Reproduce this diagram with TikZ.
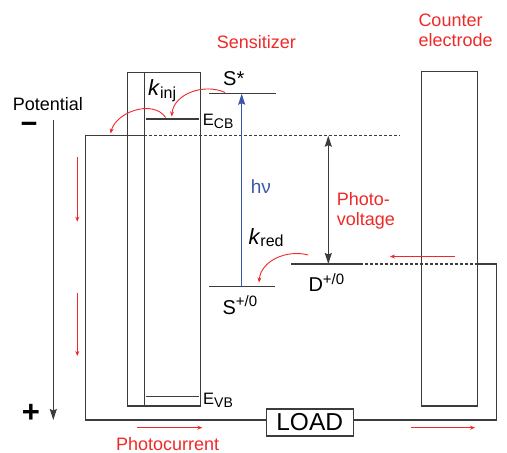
\documentclass[tikz,border=0pt]{standalone}
\usepackage{fontspec}
\setmainfont{Liberation Sans}
\usetikzlibrary{arrows.meta}
\definecolor{ln}{HTML}{3C3C3C}
\definecolor{rd}{HTML}{F02828}
\definecolor{bl}{HTML}{3A56A8}
\newcommand{\lowsub}[3]{\raisebox{-#1}{\fontsize{#2}{#2}\selectfont #3}}
\newcommand{\highsup}[3]{\raisebox{#1}{\fontsize{#2}{#2}\selectfont #3}}
\tikzset{
  ln/.style={draw=ln, line width=1.2pt},
  dashln/.style={draw=ln, line width=1.1pt, dash pattern=on 3pt off 2pt},
  lbl/.style={inner sep=0pt, font=\fontsize{18}{20}\selectfont},
  biglbl/.style={inner sep=0pt, font=\fontsize{20}{22}\selectfont},
  redarr/.style={draw=rd, line width=0.9pt, -{Stealth[length=5pt,width=4pt]}},
  blkarr/.style={draw=ln, line width=1.2pt},
  bigtip/.tip={Stealth[length=11pt,width=7pt,inset=1.5pt]},
}
\begin{document}
\begin{tikzpicture}[x=1pt,y=-1pt]
\useasboundingbox (0,0) rectangle (507,453);

% ---------- coordinates ----------
% semiconductor (TiO2) box
\coordinate (boxTL) at (127.7,72.3);
\coordinate (boxBR) at (200.5,406);
\coordinate (innerT) at (144.3,72.3);
\coordinate (innerB) at (144.3,406);
\coordinate (ecbL) at (145.7,119);
\coordinate (ecbR) at (199,119);
\coordinate (evbL) at (145.7,396.7);
\coordinate (evbR) at (199,396.7);
% circuit
\coordinate (cTL) at (85.7,135.7);
\coordinate (cBL) at (85.7,420);
\coordinate (fermiA) at (144.3,135.7);
\coordinate (fermiB) at (400,135.7);
\coordinate (cBR) at (496.7,420);
\coordinate (cRT) at (496.7,264);
\coordinate (ceR) at (478,264);
\coordinate (redoxE) at (361.7,264);
\coordinate (redoxL) at (291,264);
% counter electrode
\coordinate (ceTL) at (421.5,71.7);
\coordinate (ceBR) at (477.8,406);
% sensitizer levels
\coordinate (sstarL) at (209,93.7);
\coordinate (sstarR) at (275.7,93.7);
\coordinate (sgL) at (209,286.7);
\coordinate (sgR) at (275,286.7);
\coordinate (hvB) at (241.7,286.7);
\coordinate (hvT) at (241.7,93.7);
% photovoltage
\coordinate (pvT) at (328.3,135.7);
\coordinate (pvB) at (328.3,264);
% potential axis
\coordinate (potT) at (53.3,120);
\coordinate (potB) at (53.3,420);

% ---------- shapes ----------
\draw[ln] (boxTL) rectangle (boxBR);
\draw[ln] (innerT) -- (innerB);
\draw[ln] (ecbL) -- (ecbR);
\draw[ln] (evbL) -- (evbR);
\draw[ln] (ceTL) rectangle (ceBR);
\draw[ln] (sstarL) -- (sstarR);
\draw[ln] (sgL) -- (sgR);

\node[draw=ln, line width=1.2pt, minimum width=87pt, minimum height=27pt, inner sep=0pt,
      font=\fontsize{24.5}{26}\selectfont] (load) at (309.7,422.5) {LOAD};

\draw[ln] (fermiA) -- (cTL) -- (cBL) -- (load.west |- cBL);
\draw[ln] (load.east |- cBR) -- (cBR) -- (cRT) -- (ceR);
\draw[dashln] (fermiA) -- (fermiB);
\draw[dashln] (ceR) -- (redoxE);
\draw[ln] (redoxE) -- (redoxL);

% axis and arrows
\draw[blkarr, -bigtip] (potT) -- (potB);
\draw[draw=bl, line width=1.1pt, -bigtip, color=bl] (hvB) -- (hvT);
\draw[blkarr, bigtip-bigtip] (pvT) -- (pvB);

% red current arrows
\coordinate (r1a) at (77.3,157.3); \coordinate (r1b) at (77.3,221.7);
\coordinate (r2a) at (77.3,292.7); \coordinate (r2b) at (77.3,356);
\coordinate (r3a) at (136.7,427.7); \coordinate (r3b) at (202.3,427.7);
\coordinate (r4a) at (411,427.7); \coordinate (r4b) at (475,427.7);
\coordinate (r5a) at (455,256.5); \coordinate (r5b) at (390,256.5);
\draw[redarr] (r1a) -- (r1b);
\draw[redarr] (r2a) -- (r2b);
\draw[redarr] (r3a) -- (r3b);
\draw[redarr] (r4a) -- (r4b);
\draw[redarr] (r5a) -- (r5b);

% curved red arrows
\coordinate (kiA) at (225,92.5); \coordinate (kiB) at (171.7,116.5);
\coordinate (ktA) at (165.7,117.5); \coordinate (ktB) at (110.5,133.5);
\coordinate (krA) at (308.3,255); \coordinate (krB) at (259,282.5);
\draw[redarr] (kiA) to[out=155,in=85] (kiB);
\draw[redarr] (ktA) to[out=125,in=75] (ktB);
\draw[redarr] (krA) to[out=165,in=85] (krB);

% ---------- labels ----------
\node[lbl, text=rd, anchor=base west] (sens) at (216.7,48.3) {Sensitizer};
\node[lbl, text=rd, anchor=base west] (count) at (418.3,26.7) {Counter};
\node[lbl, text=rd, anchor=base west] (electr) at (418.3,46) {electrode};
\node[lbl, anchor=base west] (pot) at (12.7,110.7) {Potential};
\node[inner sep=0pt, font=\fontsize{29}{29}\bfseries, anchor=base, text height=11pt, text depth=0pt] (minus) at (29,133) {−};
\node[inner sep=0pt, font=\fontsize{31}{31}\bfseries, anchor=base] (plus) at (31,422.5) {+};
\node[biglbl, anchor=base west] (sstar) at (223,85.7) {S*};
\node[inner sep=0pt, font=\fontsize{16.5}{17}\selectfont, anchor=base west] (ecb) at (202.7,125) {E\lowsub{3pt}{14}{CB}};
\node[inner sep=0pt, font=\fontsize{16.5}{17}\selectfont, anchor=base west] (evb) at (203,404) {E\lowsub{3pt}{14}{VB}};
\node[inner sep=0pt, font=\fontsize{22}{24}\selectfont, anchor=base west] (kinj) at (148,95.5) {\textit{k}\lowsub{2.5pt}{16}{inj}};
\node[inner sep=0pt, font=\fontsize{22}{24}\selectfont, anchor=base west] (kred) at (248.3,244) {\textit{k}\lowsub{2.5pt}{16}{red}};
\node[lbl, text=bl, font=\fontsize{19}{21}\selectfont, anchor=base west] (hv) at (250.7,193.3) {hν};
\node[lbl, text=rd, anchor=base west] (photo) at (336.7,205.7) {Photo-};
\node[lbl, text=rd, anchor=base west] (volt) at (336.7,225.7) {voltage};
\node[biglbl, anchor=base west] (sg) at (222.3,314.3) {S\highsup{7.5pt}{15}{+/0}};
\node[biglbl, anchor=base west] (dred) at (308.3,291.7) {D\highsup{7.5pt}{15}{+/0}};
\node[lbl, text=rd, anchor=base west] (pc) at (116,450.5) {Photocurrent};
\end{tikzpicture}
\end{document}
